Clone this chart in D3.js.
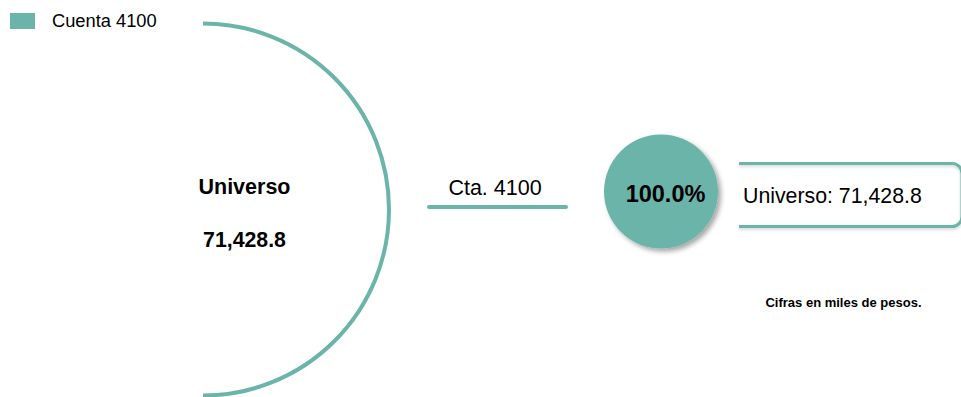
<!DOCTYPE html>
<html>
<head>
<meta charset="utf-8">
<script src="https://cdn.jsdelivr.net/npm/d3@7"></script>
<style>
  body { margin: 0; background: #fff; }
  text { font-family: "Liberation Sans", Arial, sans-serif; fill: #000; }
</style>
</head>
<body>
<div id="chart"></div>
<script>
// data
var categories = ["Cuenta 4100"];
var shortLabels = ["Cta. 4100"];
var values = [71428.8];
var universeLabel = "Universo";
var note = "Cifras en miles de pesos.";

var svgWidth = 961;
var svgHeight = 397;
var color = "#6bb4aa";

var total = d3.sum(values);
var fmt = d3.format(",.1f");
var pct = d3.format(".1%");

var svg = d3.select("#chart")
  .append("svg")
  .attr("width", svgWidth)
  .attr("height", svgHeight);

var defs = svg.append("defs");
var shadow = defs.append("filter")
  .attr("id", "shadow")
  .attr("x", "-30%").attr("y", "-30%")
  .attr("width", "160%").attr("height", "160%");
shadow.append("feDropShadow")
  .attr("dx", 3).attr("dy", 3)
  .attr("stdDeviation", 2.5)
  .attr("flood-color", "#000")
  .attr("flood-opacity", 0.35);

var lineShadow = defs.append("filter")
  .attr("id", "lineShadow")
  .attr("x", "-10%").attr("y", "-50%")
  .attr("width", "120%").attr("height", "200%");
lineShadow.append("feDropShadow")
  .attr("dx", 0).attr("dy", 2)
  .attr("stdDeviation", 1.5)
  .attr("flood-color", "#000")
  .attr("flood-opacity", 0.15);

// legend
var legend = svg.selectAll(".legend")
  .data(categories)
  .enter()
  .append("g")
  .attr("transform", (d, i) => `translate(10, ${13 + i * 22})`);

legend.append("rect")
  .attr("width", 25)
  .attr("height", 16)
  .attr("fill", color);

legend.append("text")
  .attr("x", 42)
  .attr("y", 14)
  .attr("font-size", 18.3)
  .text(d => d);

// big semicircle = universe
var angle = d3.scaleLinear().domain([0, total]).range([0, Math.PI]);
var arc = d3.arc()
  .innerRadius(186)
  .outerRadius(186);

svg.append("path")
  .attr("transform", "translate(203, 209.5)")
  .attr("d", arc({ startAngle: 0, endAngle: angle(total) }))
  .attr("fill", "none")
  .attr("stroke", color)
  .attr("stroke-width", 4);

svg.append("text")
  .attr("x", 244.5)
  .attr("y", 194)
  .attr("text-anchor", "middle")
  .attr("font-size", 21.5)
  .attr("font-weight", "bold")
  .text(universeLabel);

svg.append("text")
  .attr("x", 244.5)
  .attr("y", 247)
  .attr("text-anchor", "middle")
  .attr("font-size", 21.3)
  .attr("font-weight", "bold")
  .text(fmt(total));

// connector line per category
var rows = svg.selectAll(".row")
  .data(values)
  .enter()
  .append("g");

rows.append("line")
  .attr("x1", 429)
  .attr("x2", 566)
  .attr("y1", 207)
  .attr("y2", 207)
  .attr("stroke", color)
  .attr("stroke-width", 4)
  .attr("stroke-linecap", "round");

rows.append("text")
  .attr("x", 495)
  .attr("y", 195)
  .attr("text-anchor", "middle")
  .attr("font-size", 21.5)
  .text((d, i) => shortLabels[i]);

// circle sized by share
var r = d3.scaleSqrt().domain([0, total]).range([0, 57]);

rows.append("circle")
  .attr("cx", 661)
  .attr("cy", 191.5)
  .attr("r", d => r(d))
  .attr("fill", color)
  .attr("filter", "url(#shadow)");

rows.append("text")
  .attr("x", 665.5)
  .attr("y", 202)
  .attr("text-anchor", "middle")
  .attr("font-size", 23.5)
  .attr("font-weight", "bold")
  .text(d => pct(d / total));

// box with value
rows.append("path")
  .attr("d", "M739,163.5 H952 A10,10 0 0 1 962,173.5 V216.5 A10,10 0 0 1 952,226.5 H739")
  .attr("fill", "none")
  .attr("stroke", color)
  .attr("stroke-width", 3)
  .attr("filter", "url(#lineShadow)");

rows.append("text")
  .attr("x", 743)
  .attr("y", 203)
  .attr("font-size", 21.3)
  .text(d => universeLabel + ": " + fmt(d));

svg.append("text")
  .attr("x", 843.5)
  .attr("y", 307)
  .attr("text-anchor", "middle")
  .attr("font-size", 13)
  .attr("font-weight", "bold")
  .text(note);
</script>
</body>
</html>
